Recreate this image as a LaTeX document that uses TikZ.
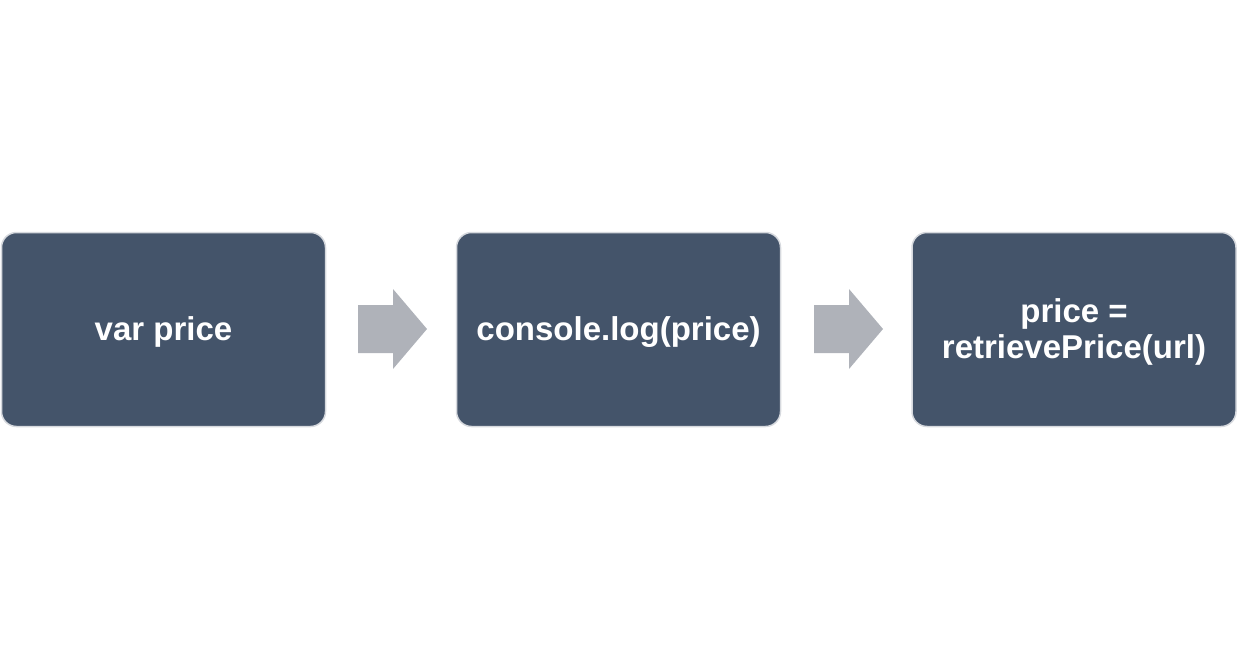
\documentclass[tikz,border=0pt]{standalone}
\usepackage{fontspec}
\setmainfont{Liberation Sans}
\definecolor{boxfill}{HTML}{44546A}
\definecolor{boxline}{HTML}{D6D9DE}
\definecolor{arrowfill}{HTML}{AFB2B9}
\begin{document}
\begin{tikzpicture}[x=1pt,y=-1pt,
  stepbox/.style={draw=boxline,line width=1.5pt,fill=boxfill,rounded corners=15pt,
    minimum width=324pt,minimum height=194pt,inner sep=0pt},
  steptext/.style={text=white,font=\bfseries\fontsize{33}{36}\selectfont,align=center,inner sep=0pt,yshift=-2.5pt}]
\useasboundingbox (0,0) rectangle (1238,658);
\node[stepbox] (a) at (163.5,329.5) {};
\node[stepbox] (b) at (618.5,329.5) {};
\node[stepbox] (c) at (1074,329.5) {};
\node[steptext] (ta) at (a.center) {var price};
\node[steptext] (tb) at (b.center) {console.log(price)};
\node[steptext] (tc) at (c.center) {price =\\retrievePrice(url)};
\foreach \x/\n in {358/ab,814/bc}{
  \fill[arrowfill] (\x,305) -- (\x+35,305) -- (\x+35,289) -- (\x+69,329) -- (\x+35,369) -- (\x+35,353) -- (\x,353) -- cycle;
}
\end{tikzpicture}
\end{document}
